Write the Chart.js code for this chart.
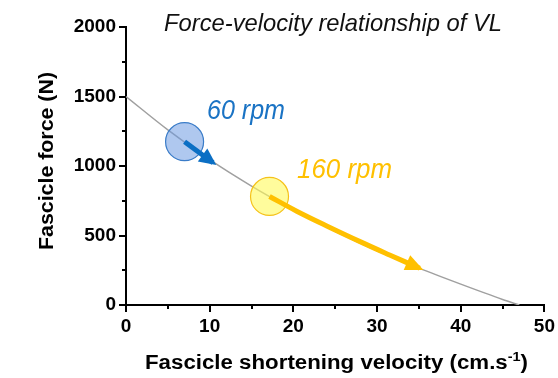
<!DOCTYPE html>
<html>
<head>
<meta charset="utf-8">
<script src="https://cdn.jsdelivr.net/npm/chart.js@4"></script>
<style>
  html, body { margin: 0; padding: 0; background: #fff; }
  #wrap { width: 558px; height: 378px; }
</style>
</head>
<body>
<div id="wrap"><canvas id="fvChart" width="558" height="378"></canvas></div>
<script>
// force-velocity curve
const velocity = [0, 5, 10, 15, 20, 25, 30, 35, 40, 45, 47];
const force = [1500, 1260, 1045, 855, 685, 530, 390, 265, 150, 40, 0];

// pedal cadence markers
const rpm60Point = [{ x: 7.0, y: 1175 }];
const rpm160Point = [{ x: 17.15, y: 781 }];

// arrows (last point is the tip)
const rpm60Arrow = [{ x: 7.0, y: 1175 }, { x: 10.4, y: 1024 }];
const rpm160Arrow = [
  { x: 17.15, y: 781 }, { x: 20.4, y: 675 }, { x: 24.3, y: 560 },
  { x: 28.3, y: 447 }, { x: 31.5, y: 360 }, { x: 35.1, y: 264 }
];

const xTicks = [0, 10, 20, 30, 40, 50];
const yTicks = [0, 500, 1000, 1500, 2000];

const tickFont = { family: 'Liberation Sans', size: 19, weight: 'bold' };

// draw text squeezed/stretched to a given width
function fitText(ctx, parts, x, y, width) {
  let total = 0;
  parts.forEach(p => { ctx.font = p.font; total += ctx.measureText(p.text).width; });
  const k = width / total;
  ctx.save();
  ctx.translate(x, y);
  ctx.scale(k, 1);
  let cx = 0;
  parts.forEach(p => {
    ctx.font = p.font;
    ctx.fillText(p.text, cx, p.dy || 0);
    cx += ctx.measureText(p.text).width;
  });
  ctx.restore();
}

// arrowheads, minor ticks and the text annotations
const extras = {
  id: 'extras',
  afterDatasetsDraw(chart) {
    const ctx = chart.ctx;
    const xs = chart.scales.x, ys = chart.scales.y;
    ctx.save();
    [[rpm60Arrow, '#0b6fc4', 17, 8], [rpm160Arrow, '#ffc000', 18, 8]].forEach(([pts, col, len, half]) => {
      const a = pts[pts.length - 2], b = pts[pts.length - 1];
      const ax = xs.getPixelForValue(a.x), ay = ys.getPixelForValue(a.y);
      const bx = xs.getPixelForValue(b.x), by = ys.getPixelForValue(b.y);
      const d = Math.hypot(bx - ax, by - ay);
      const ux = (bx - ax) / d, uy = (by - ay) / d;
      const tx = bx + ux * 4, ty = by + uy * 4;
      const cx = tx - ux * len, cy = ty - uy * len;
      ctx.fillStyle = col;
      ctx.beginPath();
      ctx.moveTo(tx, ty);
      ctx.lineTo(cx - uy * half, cy + ux * half);
      ctx.lineTo(cx + uy * half, cy - ux * half);
      ctx.closePath();
      ctx.fill();
    });

    // minor ticks
    ctx.strokeStyle = '#000';
    ctx.lineWidth = 2;
    for (let v = 250; v < 2000; v += 500) {
      const py = Math.round(ys.getPixelForValue(v));
      ctx.beginPath(); ctx.moveTo(xs.left - 4, py); ctx.lineTo(xs.left, py); ctx.stroke();
    }
    for (let v = 5; v < 50; v += 10) {
      const px = Math.round(xs.getPixelForValue(v));
      ctx.beginPath(); ctx.moveTo(px, ys.bottom); ctx.lineTo(px, ys.bottom + 4); ctx.stroke();
    }

    ctx.textBaseline = 'alphabetic';
    ctx.textAlign = 'left';
    ctx.fillStyle = '#111';
    fitText(ctx, [{ text: 'Force-velocity relationship of VL', font: 'italic 24px "Liberation Sans"' }], 164, 31, 338);
    ctx.fillStyle = '#1a73c4';
    fitText(ctx, [{ text: '60 rpm', font: 'italic 28px "Liberation Sans"' }], 207, 119, 78);
    ctx.fillStyle = '#ffc000';
    fitText(ctx, [{ text: '160 rpm', font: 'italic 28px "Liberation Sans"' }], 297, 178, 95);

    // axis titles
    ctx.fillStyle = '#000';
    const bold = 'bold 20px "Liberation Sans"';
    fitText(ctx, [
      { text: 'Fascicle shortening velocity (cm.s', font: bold },
      { text: '-1', font: 'bold 13px "Liberation Sans"', dy: -8 },
      { text: ')', font: bold }
    ], 145, 369, 383);
    ctx.save();
    ctx.translate(53, 250);
    ctx.rotate(-Math.PI / 2);
    fitText(ctx, [{ text: 'Fascicle force (N)', font: 'bold 21px "Liberation Sans"' }], 0, 0, 178);
    ctx.restore();
    ctx.restore();
  }
};

new Chart(document.getElementById('fvChart'), {
  type: 'scatter',
  data: {
    datasets: [
      {
        label: '60 rpm arrow',
        data: rpm60Arrow,
        showLine: true,
        borderColor: '#0b6fc4',
        borderWidth: 5,
        pointRadius: 0,
        order: 0
      },
      {
        label: '160 rpm arrow',
        data: rpm160Arrow,
        showLine: true,
        borderColor: '#ffc000',
        borderWidth: 5,
        pointRadius: 0,
        tension: 0.4,
        order: 0
      },
      {
        label: '60 rpm',
        data: rpm60Point,
        pointRadius: 19,
        backgroundColor: 'rgba(110, 155, 225, 0.55)',
        borderColor: '#3a7cc8',
        borderWidth: 1.2,
        order: 1
      },
      {
        label: '160 rpm',
        data: rpm160Point,
        pointRadius: 19,
        backgroundColor: 'rgba(255, 250, 90, 0.6)',
        borderColor: '#f5c21a',
        borderWidth: 1.2,
        order: 1
      },
      {
        label: 'Force-velocity',
        data: velocity.map((v, i) => ({ x: v, y: force[i] })),
        showLine: true,
        borderColor: '#a0a0a0',
        borderWidth: 1.5,
        pointRadius: 0,
        cubicInterpolationMode: 'monotone',
        order: 2
      }
    ]
  },
  options: {
    responsive: false,
    animation: false,
    layout: { autoPadding: false, padding: { top: 27, right: 0, left: 0, bottom: 0 } },
    plugins: { legend: { display: false }, tooltip: { enabled: false }, title: { display: false } },
    scales: {
      x: {
        type: 'linear',
        min: 0, max: 50,
        afterBuildTicks: (s) => { s.ticks = xTicks.map(v => ({ value: v })); },
        afterFit: (s) => { s.height = 73; },
        border: { color: '#000', width: 2 },
        grid: { drawOnChartArea: false, color: '#000', lineWidth: 2, tickLength: 7 },
        ticks: { color: '#000', font: tickFont, padding: 3, maxRotation: 0, callback: (v) => String(v) }
      },
      y: {
        type: 'linear',
        min: 0, max: 2000,
        afterBuildTicks: (s) => { s.ticks = yTicks.map(v => ({ value: v })); },
        afterFit: (s) => { s.width = 126; },
        border: { color: '#000', width: 2 },
        grid: { drawOnChartArea: false, color: '#000', lineWidth: 2, tickLength: 7 },
        ticks: { color: '#000', font: tickFont, padding: 3, callback: (v) => String(v) }
      }
    }
  },
  plugins: [extras]
});
</script>
</body>
</html>
